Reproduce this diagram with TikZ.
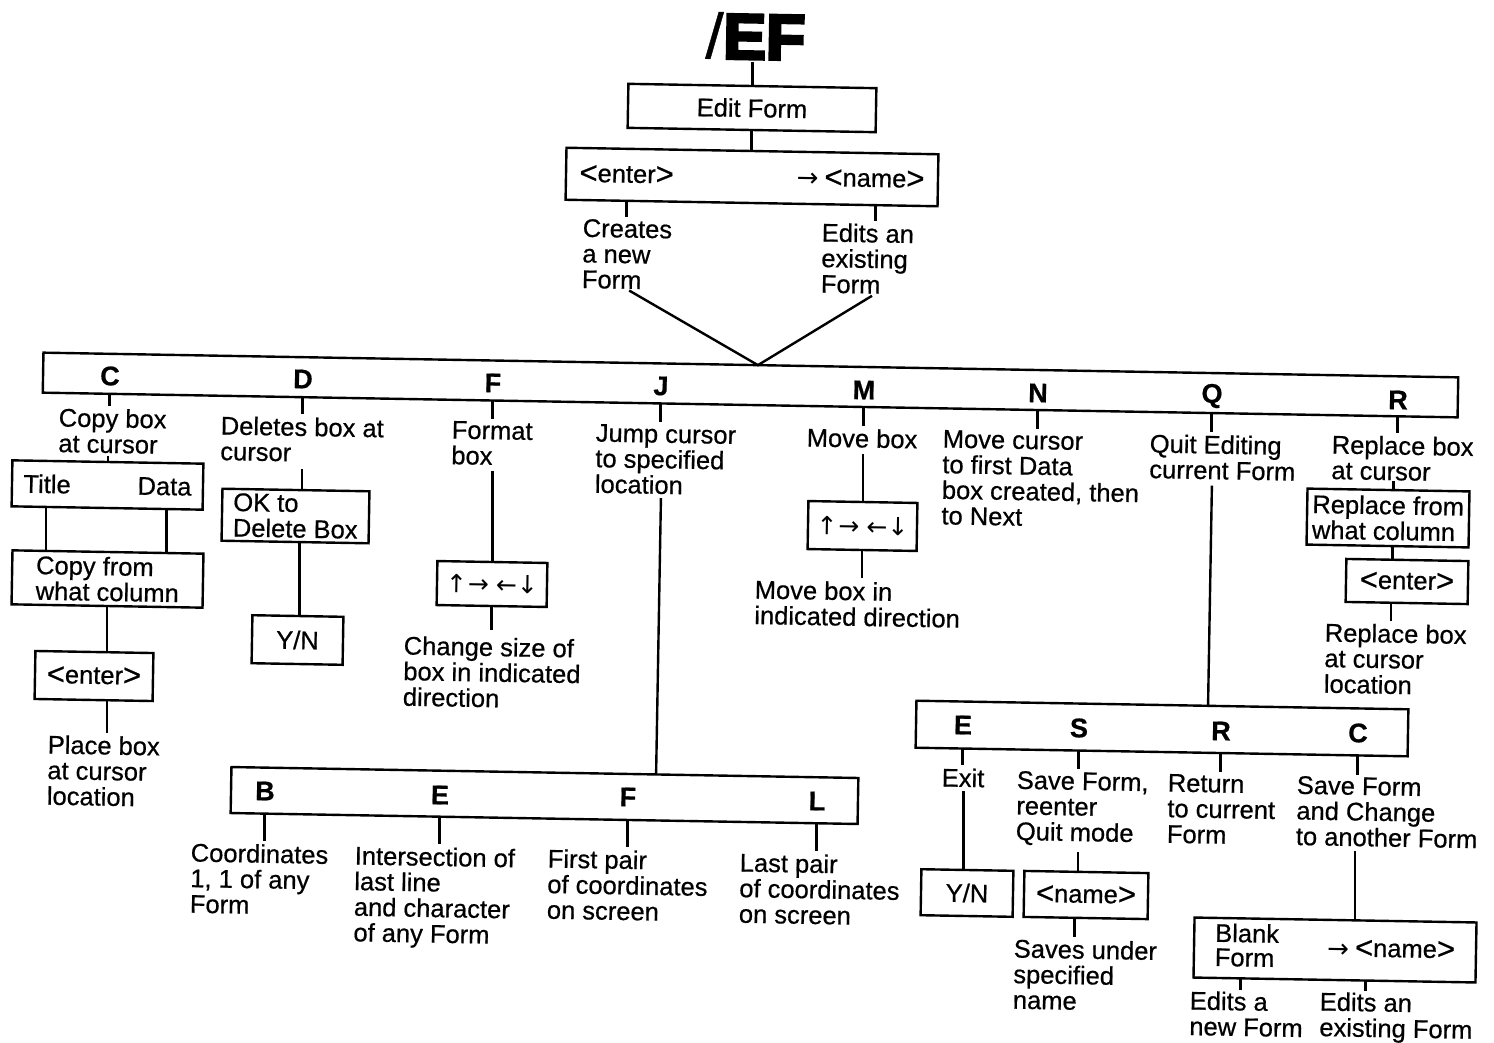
\documentclass[tikz,border=0pt]{standalone}
\usepackage{fontspec}
\setmainfont{Liberation Sans}[FakeBold=0.6]
\newfontfamily\arrowfont{DejaVu Sans}
\newfontfamily\heavyfont{Liberation Sans Bold}[FakeBold=5]
\usetikzlibrary{calc}
% tick from a bar, straight below a command letter, down to its description
\newcommand\keydrop[3]{%
  \coordinate (#2f) at ($(#1.south west)!(#2)!(#1.south east)$);
  \draw[wire,shorten >=3pt] (#2f) -- (#2f |- #3.north);}
% wide angle brackets of the key names
\newcommand\lang{\raisebox{-1.2pt}{\fontsize{31}{31}\selectfont<}}
\newcommand\rang{\raisebox{-1.2pt}{\fontsize{31}{31}\selectfont>}}
\newcommand\rarr{\raisebox{-1pt}{\arrowfont\fontsize{26}{26}\selectfont →}}
\begin{document}
\begin{tikzpicture}[x=1pt,y=-1pt,
  every node/.style={rotate=-1,inner sep=0pt,outer sep=0pt,
    font=\fontsize{25.5}{25.6}\selectfont},
  lab/.style={anchor=north west,align=left},
  key/.style={font=\fontsize{27}{27}\selectfont\bfseries},
  box/.style={draw,line width=2.4pt,align=left},
  wire/.style={line width=2.4pt},
  dirs/.style={font=\arrowfont\fontsize{25}{25}\selectfont}]

\fill[white] (0,0) rectangle (1494,1042);
\useasboundingbox (0,0) rectangle (1494,1042);

% ---- head of the tree
\node[anchor=base] (title) at (755,59) {\fontsize{64}{64}\selectfont /{\heavyfont EF}};
\node[box,minimum width=248pt,minimum height=44pt] (editform) at (752,108) {Edit Form};
\node[box,minimum width=372pt,minimum height=52pt,text width=345pt] (entername) at (752,177)
  {\lang enter\rang\hfill\rarr\hspace{6pt}\lang name\rang};
\node[lab] (creates) at (583,219) {Creates\\a new\\Form};
\node[lab] (edits) at (822,223) {Edits an\\existing\\Form};

\draw[wire,shorten >=2pt] (editform.north) -- (editform.north |- title.south);
\draw[wire] (editform.south) -- (editform.south |- entername.north);
\coordinate (el) at ($(entername.south west)!0.164!(entername.south east)$);
\coordinate (er) at ($(entername.south west)!0.833!(entername.south east)$);
\draw[wire,shorten >=3pt] (el) -- (el |- creates.north);
\draw[wire,shorten >=3pt] (er) -- (er |- edits.north);

% ---- command bar
\node[box,minimum width=1415pt,minimum height=40pt] (bar) at (750.5,385) {};
\coordinate (apex) at ($(bar.north west)!0.505!(bar.north east)$);
\coordinate (vl) at (el |- creates.south);
\coordinate (vr) at (er |- edits.south);
\draw[wire,shorten <=3pt,shorten >=4pt] (vl) -- (apex) -- (vr);

\node[key] (kC) at (110,376) {C};
\node[key] (kD) at (303,379) {D};
\node[key] (kF) at (493,383) {F};
\node[key] (kJ) at (661,386) {J};
\node[key] (kM) at (864,390) {M};
\node[key] (kN) at (1038,393) {N};
\node[key] (kQ) at (1212,396) {Q};
\node[key] (kR) at (1398,400) {R};

\node[lab] (Cl) at (59,408) {Copy box\\at cursor};
\node[lab] (Dl) at (221,416) {Deletes box at\\cursor};
\node[lab] (Fl) at (452,421) {Format\\box};
\node[lab] (Jl) at (596,424) {Jump cursor\\to specified\\location};
\node[lab] (Ml) at (807,428) {Move box};
\node[lab] (Nl) at (943,430) {Move cursor\\to first Data\\box created, then\\to Next};
\node[lab] (Ql) at (1150,434) {Quit Editing\\current Form};
\node[lab] (Rl) at (1332,435) {Replace box\\at cursor};

\keydrop{bar}{kC}{Cl}
\keydrop{bar}{kD}{Dl}
\keydrop{bar}{kF}{Fl}
\keydrop{bar}{kJ}{Jl}
\keydrop{bar}{kM}{Ml}
\keydrop{bar}{kN}{Nl}
\keydrop{bar}{kQ}{Ql}
\keydrop{bar}{kR}{Rl}

% ---- C : copy box
\node[box,minimum width=191pt,minimum height=46pt,text width=168pt] (titledata) at (107.5,485) {Title\hfill Data};
\node[box,minimum width=191pt,minimum height=54pt] (copyfrom) at (107.5,579) {Copy from\\what column};
\node[box,minimum width=118pt,minimum height=48pt] (enterC) at (94,676) {\lang enter\rang};
\node[lab] (placel) at (48,735) {Place box\\at cursor\\location};
\draw[wire,shorten >=3pt] (titledata.north) -- (titledata.north |- Cl.south);
\coordinate (tdl) at ($(titledata.south west)!0.18!(titledata.south east)$);
\coordinate (tdr) at ($(titledata.south west)!0.81!(titledata.south east)$);
\draw[wire] (tdl) -- (tdl |- copyfrom.north);
\draw[wire] (tdr) -- (tdr |- copyfrom.north);
\draw[wire] (copyfrom.south) -- (copyfrom.south |- enterC.north);
\coordinate (ecb) at (copyfrom.south |- enterC.south);
\draw[wire,shorten >=3pt] (ecb) -- (ecb |- placel.north);

% ---- D : delete box
\node[box,minimum width=147pt,minimum height=52pt] (okD) at (295.5,516) {OK to\\Delete Box};
\node[box,minimum width=91pt,minimum height=48pt] (ynD) at (297.5,640) {Y/N};
\coordinate (okt) at ($(okD.north west)!0.54!(okD.north east)$);
\coordinate (okb) at ($(okD.south west)!0.53!(okD.south east)$);
\draw[wire,shorten >=7pt] (okt) -- (okt |- Dl.south);
\draw[wire] (okb) -- (okb |- ynD.north);

% ---- F : format box
\node[box,minimum width=110pt,minimum height=44pt,dirs] (arrF) at (492,584) {↑\hspace{1pt}→\hspace{7pt}←\hspace{0pt}↓};
\node[lab] (chgl) at (404,636) {Change size of\\box in indicated\\direction};
\draw[wire,shorten >=6pt] (arrF.north) -- (arrF.north |- Fl.south);
\draw[wire,shorten >=8pt] (arrF.south) -- (arrF.south |- chgl.north);

% ---- J : jump cursor
\node[box,minimum width=627pt,minimum height=46pt] (bar2) at (544.5,795.5) {};
\coordinate (jt) at (kJ |- Jl.south);
\draw[wire,shorten <=4pt] (jt) -- ($(bar2.north west)!(jt)!(bar2.north east)$);
\node[key] (kB) at (265,791) {B};
\node[key] (kE2) at (440,795) {E};
\node[key] (kF2) at (628,797) {F};
\node[key] (kL) at (817,801) {L};
\node[lab] (Bl) at (191,843) {Coordinates\\1, 1 of any\\Form};
\node[lab] (El) at (355,846) {Intersection of\\last line\\and character\\of any Form};
\node[lab] (F2l) at (548,849) {First pair\\of coordinates\\on screen};
\node[lab] (Ll) at (740,853) {Last pair\\of coordinates\\on screen};
\keydrop{bar2}{kB}{Bl}
\keydrop{bar2}{kE2}{El}
\keydrop{bar2}{kF2}{F2l}
\keydrop{bar2}{kL}{Ll}

% ---- M : move box
\node[box,minimum width=109pt,minimum height=48pt,dirs] (arrM) at (862.5,526) {↑\hspace{1pt}→\hspace{7pt}←\hspace{0pt}↓};
\node[lab] (mvl) at (755,580) {Move box in\\indicated direction};
\draw[wire,shorten >=6pt] (arrM.north) -- (arrM.north |- Ml.south);
\draw[wire,shorten >=4pt] (arrM.south) -- (arrM.south |- mvl.north);

% ---- R : replace box
\node[box,minimum width=162pt,minimum height=56pt] (repbox) at (1388,518) {Replace from\\what column};
\node[box,minimum width=122pt,minimum height=43pt] (enterR) at (1407,581.5) {\lang enter\rang};
\node[lab] (repl) at (1325,623) {Replace box\\at cursor\\location};
\coordinate (rt) at ($(repbox.north west)!0.53!(repbox.north east)$);
\coordinate (rb) at ($(repbox.south west)!0.53!(repbox.south east)$);
\coordinate (eb) at ($(enterR.south west)!0.37!(enterR.south east)$);
\draw[wire] (rt) -- (rt |- Rl.south);
\draw[wire] (rb) -- (rb |- enterR.north);
\draw[wire,shorten >=3pt] (eb) -- (eb |- repl.north);

% ---- Q : quit editing
\node[box,minimum width=492pt,minimum height=47pt] (bar3) at (1162,728.5) {};
\coordinate (qt) at (kQ |- Ql.south);
\draw[wire,shorten <=6pt] (qt) -- ($(bar3.north west)!(qt)!(bar3.north east)$);
\node[key] (kE3) at (963,725) {E};
\node[key] (kS) at (1079,728) {S};
\node[key] (kR3) at (1221,731) {R};
\node[key] (kC3) at (1358,733) {C};
\node[lab] (exitl) at (942,768) {Exit};
\node[lab] (Sl) at (1017,771) {Save Form,\\reenter\\Quit mode};
\node[lab] (R3l) at (1168,774) {Return\\to current\\Form};
\node[lab] (C3l) at (1297,776) {Save Form\\and Change\\to another Form};
\keydrop{bar3}{kE3}{exitl}
\keydrop{bar3}{kS}{Sl}
\keydrop{bar3}{kR3}{R3l}
\keydrop{bar3}{kC3}{C3l}

\node[box,minimum width=92pt,minimum height=46pt] (ynE) at (967,893) {Y/N};
\node[box,minimum width=124pt,minimum height=46pt] (nameS) at (1086,895) {\lang name\rang};
\node[lab] (savesl) at (1014,939) {Saves under\\specified\\name};
\node[box,minimum width=282pt,minimum height=60pt,text width=240pt] (blank) at (1335,950)
  {{\fontsize{25.5}{22}\selectfont\begin{tabular}{@{}l@{}}Blank\\Form\end{tabular}}\hfill\rarr\hspace{6pt}\lang name\rang};
\node[lab] (ednl) at (1190,991) {Edits a\\new Form};
\node[lab] (edel) at (1320,992) {Edits an\\existing Form};

\coordinate (yt) at ($(ynE.north west)!0.457!(ynE.north east)$);
\draw[wire,shorten >=4pt] (yt) -- (yt |- exitl.south);
\coordinate (nt) at ($(nameS.north west)!0.43!(nameS.north east)$);
\coordinate (nb) at ($(nameS.south west)!0.41!(nameS.south east)$);
\draw[wire,shorten >=6pt] (nt) -- (nt |- Sl.south);
\draw[wire,shorten >=3pt] (nb) -- (nb |- savesl.north);
\coordinate (bt) at ($(blank.north west)!0.57!(blank.north east)$);
\draw[wire,shorten >=4pt] (bt) -- (bt |- C3l.south);
\coordinate (bl) at ($(blank.south west)!0.167!(blank.south east)$);
\coordinate (br) at ($(blank.south west)!0.61!(blank.south east)$);
\draw[wire,shorten >=2pt] (bl) -- (bl |- ednl.north);
\draw[wire,shorten >=2pt] (br) -- (br |- edel.north);
\end{tikzpicture}
\end{document}
